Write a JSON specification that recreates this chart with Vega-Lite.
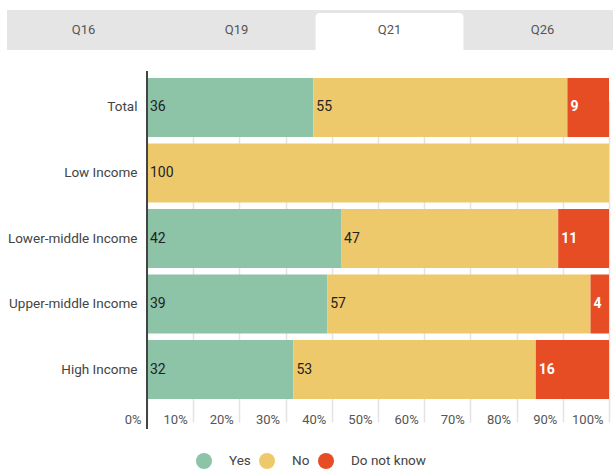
{
  "$schema": "https://vega.github.io/schema/vega-lite/v6.json",
  "background": "white",
  "padding": {"left": 7, "top": 10, "right": 0, "bottom": 0},
  "spacing": 20,
  "config": {
    "view": {"stroke": null},
    "font": "Roboto",
    "axis": {"labelFont": "Roboto", "titleFont": "Roboto"},
    "legend": {"labelFont": "Roboto"}
  },
  "vconcat": [
    {
      "width": 462,
      "height": 40,
      "data": {"values": [
        {"tab": "Q16", "active": false},
        {"tab": "Q19", "active": false},
        {"tab": "Q21", "active": true},
        {"tab": "Q26", "active": false}
      ]},
      "encoding": {
        "x": {"field": "tab", "type": "nominal", "sort": null, "axis": null,
              "scale": {"range": [-140, 472], "paddingInner": 0, "paddingOuter": 0}}
      },
      "layer": [
        {"mark": {"type": "bar", "color": "#e5e5e5"}},
        {"transform": [{"filter": "datum.active"}],
         "mark": {"type": "bar", "color": "white", "width": {"band": 0.967}, "yOffset": 3,
                  "cornerRadiusTopLeft": 4, "cornerRadiusTopRight": 4}},
        {"mark": {"type": "text", "fontSize": 13, "color": "#555", "font": "Roboto"},
         "encoding": {"text": {"field": "tab"}}}
      ]
    },
    {
      "width": 462,
      "height": 358,
      "layer": [
        {
          "data": {"values": [
            {"group": "Total", "answer": "Yes", "value": 36},
            {"group": "Total", "answer": "No", "value": 55},
            {"group": "Total", "answer": "Do not know", "value": 9},
            {"group": "Low Income", "answer": "No", "value": 100},
            {"group": "Lower-middle Income", "answer": "Yes", "value": 42},
            {"group": "Lower-middle Income", "answer": "No", "value": 47},
            {"group": "Lower-middle Income", "answer": "Do not know", "value": 11},
            {"group": "Upper-middle Income", "answer": "Yes", "value": 39},
            {"group": "Upper-middle Income", "answer": "No", "value": 57},
            {"group": "Upper-middle Income", "answer": "Do not know", "value": 4},
            {"group": "High Income", "answer": "Yes", "value": 32},
            {"group": "High Income", "answer": "No", "value": 53},
            {"group": "High Income", "answer": "Do not know", "value": 16}
          ]},
          "transform": [
            {"stack": "value", "groupby": ["group"], "sort": [{"field": "answer", "order": "descending"}],
             "as": ["x0", "x1"], "offset": "normalize"}
          ],
          "encoding": {
            "y": {"field": "group", "type": "nominal", "sort": null,
                  "scale": {"range": [7, 328], "paddingInner": 0.1, "paddingOuter": 0},
                  "axis": {"title": null, "ticks": false, "domain": false, "labelPadding": 10,
                           "labelFontSize": 13.5, "labelColor": "#444"}}
          },
          "layer": [
            {
              "mark": {"type": "bar"},
              "encoding": {
                "x": {"field": "x0", "type": "quantitative",
                      "scale": {"domain": [0, 1], "nice": false},
                      "axis": {"title": null, "format": "%", "values": [0, 0.1, 0.2, 0.3, 0.4, 0.5, 0.6, 0.7, 0.8, 0.9, 1],
                               "grid": true, "gridColor": "#e3e3e3", "gridWidth": 1.5,
                               "domain": false, "ticks": false, "labelAlign": "right", "labelOffset": -6,
                               "labelFlush": false, "labelBaseline": "middle", "labelPadding": -10,
                               "labelFontSize": 13, "labelColor": "#555"}},
                "x2": {"field": "x1"},
                "color": {"field": "answer", "type": "nominal",
                          "scale": {"domain": ["Yes", "No", "Do not know"],
                                    "range": ["#8dc3a7", "#eec96b", "#e64d25"]},
                          "legend": {"title": null, "orient": "none", "direction": "horizontal",
                                     "legendX": 48, "legendY": 442,
                                     "symbolType": "circle", "symbolSize": 256, "symbolOpacity": 1,
                                     "labelFontSize": 13.5, "labelColor": "#444", "labelOffset": 16,
                                     "columnPadding": 7}}
              }
            },
            {
              "transform": [{"filter": "datum.answer != 'Do not know'"}],
              "mark": {"type": "text", "align": "left", "dx": 3, "fontSize": 14, "color": "#222"},
              "encoding": {
                "x": {"field": "x0", "type": "quantitative"},
                "text": {"field": "value"}
              }
            },
            {
              "transform": [{"filter": "datum.answer == 'Do not know'"}],
              "mark": {"type": "text", "align": "left", "dx": 3, "fontSize": 14, "fontWeight": "bold", "color": "white"},
              "encoding": {
                "x": {"field": "x0", "type": "quantitative"},
                "text": {"field": "value"}
              }
            }
          ]
        },
        {
          "data": {"values": [{"v": 0}]},
          "mark": {"type": "rule", "color": "#444", "strokeWidth": 2},
          "encoding": {"x": {"field": "v", "type": "quantitative"}}
        }
      ]
    }
  ]
}
